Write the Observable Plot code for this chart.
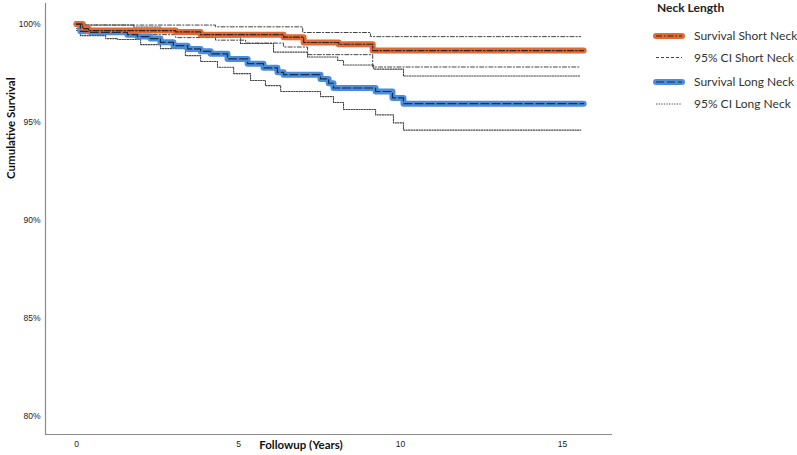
<!DOCTYPE html>
<html>
<head>
<meta charset="utf-8">
<script src="https://cdn.jsdelivr.net/npm/d3@7"></script>
<script src="https://cdn.jsdelivr.net/npm/@observablehq/plot@0.6"></script>
<style>
  html, body { margin: 0; padding: 0; background: #fff; }
  #wrap { position: relative; width: 797px; height: 455px; }
  #legend { position: absolute; left: 612px; top: 0; }
</style>
</head>
<body>
<div id="wrap"></div>
<script>
// ---- Data ----
const shortTime  = [0, 0.19, 0.37, 3.06, 3.83, 6.39, 7.01, 8.09, 9.14, 15.65];
const shortSurv  = [100, 99.77, 99.67, 99.60, 99.46, 99.33, 99.06, 98.97, 98.65, 98.65];

const longTime   = [0, 0.12, 0.43, 1.57, 1.88, 2.28, 2.59, 2.99, 3.43, 3.83, 4.14, 4.66, 5.28, 5.77, 6.20, 6.39, 7.53, 7.78, 7.93, 9.23, 9.75, 10.09, 15.65];
const longSurv   = [100, 99.63, 99.58, 99.46, 99.36, 99.26, 99.07, 98.90, 98.73, 98.61, 98.48, 98.22, 97.98, 97.77, 97.54, 97.42, 97.20, 96.98, 96.74, 96.56, 96.23, 95.94, 95.94];

const shortUpperTime = [0, 0.12, 4.29, 6.98, 9.07, 15.56];
const shortUpper     = [100, 99.95, 99.86, 99.57, 99.36, 99.36];
const shortLowerTime = [0, 0.19, 1.73, 3.06, 4.29, 5.22, 6.39, 7.13, 9.14, 15.56];
const shortLower     = [99.77, 99.52, 99.46, 99.31, 99.18, 99.03, 98.83, 98.44, 97.81, 97.81];

const longUpperTime  = [0, 0.28, 1.76, 2.59, 3.83, 5.06, 6.08, 7.13, 8.06, 8.24, 9.17, 10.09, 15.56];
const longUpper      = [100, 99.95, 99.85, 99.67, 99.34, 99.01, 98.57, 98.32, 98.14, 97.91, 97.70, 97.35, 97.35];
const longLowerTime  = [0, 0.12, 0.90, 1.27, 1.98, 2.59, 3.36, 3.83, 4.35, 4.85, 5.37, 5.83, 6.30, 7.53, 7.93, 8.24, 9.23, 9.78, 10.09, 15.56];
const longLower      = [99.67, 99.41, 99.26, 99.21, 98.95, 98.75, 98.39, 98.09, 97.80, 97.47, 97.12, 96.86, 96.56, 96.30, 96.00, 95.64, 95.37, 94.96, 94.59, 94.59];

const xTicks = [0, 5, 10, 15];
const yTicks = [80, 85, 90, 95, 100];
const legendTitle = "Neck Length";
const legendLabels = ["Survival Short Neck", "95% CI Short Neck", "Survival Long Neck", "95% CI Long Neck"];
const xLabel = "Followup (Years)";
const yLabel = "Cumulative Survival";

// ---- build rows ----
const rows = (t, v) => t.map((d, i) => ({time: d, value: v[i]}));
const sShort = rows(shortTime, shortSurv);
const sLong = rows(longTime, longSurv);
const ciSU = rows(shortUpperTime, shortUpper);
const ciSL = rows(shortLowerTime, shortLower);
const ciLU = rows(longUpperTime, longUpper);
const ciLL = rows(longLowerTime, longLower);

const orange = "#e4682f";
const blue = "#4a8ddb";
const inkDark = "#2a2a2a";
const ciGray = "#444";
const shortCIDash = "4,2,1.2,2";
const longCIDash = "1.3,1.3";
const shortSurvDash = "6,2,1.5,2";
const longSurvDash = "8,3";

const xDomain = [-0.957, 16.54];
const yDomain = [79.06, 101.05];

const chart = Plot.plot({
  width: 797,
  height: 455,
  marginLeft: 45,
  marginRight: 185,
  marginTop: 3,
  marginBottom: 21,
  style: {fontFamily: "'Liberation Sans', Arial, sans-serif", background: "#fff"},
  x: {domain: xDomain},
  y: {domain: yDomain},
  marks: [
    // CI lines
    Plot.line(ciSU, {x: "time", y: "value", curve: "step-after", stroke: ciGray, strokeWidth: 1, strokeDasharray: shortCIDash}),
    Plot.line(ciSL, {x: "time", y: "value", curve: "step-after", stroke: ciGray, strokeWidth: 1, strokeDasharray: shortCIDash}),
    Plot.line(ciLU, {x: "time", y: "value", curve: "step-after", stroke: ciGray, strokeWidth: 1.1, strokeDasharray: longCIDash}),
    Plot.line(ciLL, {x: "time", y: "value", curve: "step-after", stroke: ciGray, strokeWidth: 1.1, strokeDasharray: longCIDash}),
    // survival bands
    Plot.line(sLong, {x: "time", y: "value", curve: "step-after", stroke: blue, strokeWidth: 6, strokeLinejoin: "round", strokeLinecap: "round"}),
    Plot.line(sShort, {x: "time", y: "value", curve: "step-after", stroke: orange, strokeWidth: 6, strokeLinejoin: "round", strokeLinecap: "round"}),
    // survival inner patterns
    Plot.line(sLong, {x: "time", y: "value", curve: "step-after", stroke: "#1d2e4a", strokeWidth: 1.2, strokeDasharray: longSurvDash}),
    Plot.line(sShort, {x: "time", y: "value", curve: "step-after", stroke: inkDark, strokeWidth: 1.2, strokeDasharray: shortSurvDash}),
    // axes
    Plot.axisY({ticks: yTicks, tickFormat: d => d + "%", tickSize: 0, tickPadding: 5, label: null, fontSize: 8.5, color: "#222"}),
    Plot.axisX({ticks: xTicks, tickFormat: d => String(d), tickSize: 0, tickPadding: 6, label: null, fontSize: 8.5, color: "#222"}),
    Plot.ruleX([xDomain[0]], {stroke: "#8a8a8a", strokeWidth: 1.2}),
    Plot.ruleY([yDomain[0]], {stroke: "#8a8a8a", strokeWidth: 1.2}),
    // axis titles
    Plot.text([yLabel], {frameAnchor: "left", dx: -34, dy: -40, rotate: -90, fontSize: 11.5, fontWeight: "bold", fontFamily: "Lato, sans-serif", fill: "#111"}),
    Plot.text([xLabel], {frameAnchor: "bottom", dx: -28, dy: 14, fontSize: 11.5, fontWeight: "bold", fontFamily: "Lato, sans-serif", fill: "#111"})
  ]
});

const wrap = document.getElementById("wrap");
wrap.appendChild(chart);

// ---- legend ----
const leg = d3.select(wrap).append("svg")
  .attr("id", "legend")
  .attr("width", 185)
  .attr("height", 120)
  .style("font-family", "Lato, sans-serif");

leg.append("text").attr("x", 45).attr("y", 11.5)
  .attr("font-size", 12).attr("font-weight", "bold").attr("fill", "#222")
  .text(legendTitle);

const items = [
  {y: 36, kind: "survS"},
  {y: 57.5, kind: "ciS"},
  {y: 82, kind: "survL"},
  {y: 104, kind: "ciL"}
];
items.forEach((it, i) => {
  const g = leg.append("g");
  const x1 = 44, x2 = 70;
  if (it.kind === "survS" || it.kind === "survL") {
    g.append("line").attr("x1", x1).attr("x2", x2).attr("y1", it.y).attr("y2", it.y)
      .attr("stroke", it.kind === "survS" ? orange : blue).attr("stroke-width", 6).attr("stroke-linecap", "round");
    g.append("line").attr("x1", x1).attr("x2", x2).attr("y1", it.y).attr("y2", it.y)
      .attr("stroke", it.kind === "survS" ? inkDark : "#1d2e4a").attr("stroke-width", 1.2)
      .attr("stroke-dasharray", it.kind === "survS" ? shortSurvDash : longSurvDash);
  } else {
    g.append("line").attr("x1", x1).attr("x2", x2).attr("y1", it.y).attr("y2", it.y)
      .attr("stroke", ciGray).attr("stroke-width", 1)
      .attr("stroke-dasharray", it.kind === "ciS" ? "3,2" : longCIDash);
  }
  g.append("text").attr("x", 82).attr("y", it.y).attr("dy", "0.35em")
    .attr("font-size", 12).attr("fill", "#333").text(legendLabels[i]);
});
</script>
</body>
</html>
